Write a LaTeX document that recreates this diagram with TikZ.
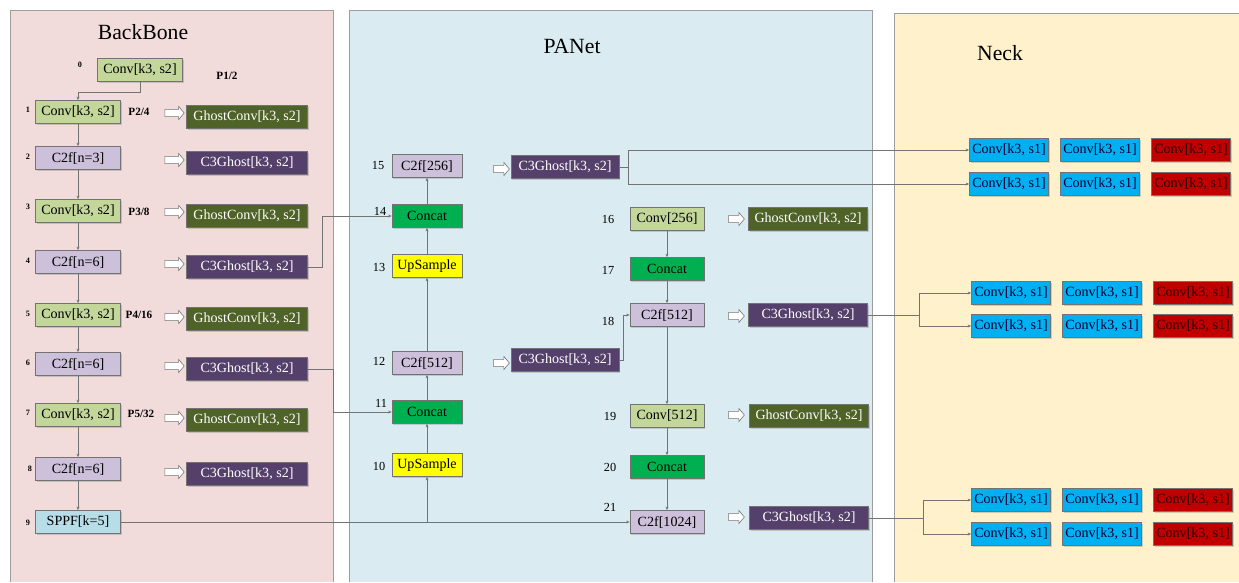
\documentclass[tikz,border=0pt]{standalone}
\usepackage{fontspec}
\setmainfont{Liberation Serif}
\usetikzlibrary{arrows.meta,shadows,shapes.arrows}

\definecolor{bbpanel}{RGB}{242,220,219}
\definecolor{papanel}{RGB}{218,236,241}
\definecolor{nkpanel}{RGB}{255,241,204}
\definecolor{convfill}{RGB}{196,215,155}
\definecolor{cffill}{RGB}{204,192,218}
\definecolor{ghostfill}{RGB}{79,98,40}
\definecolor{cghfill}{RGB}{85,64,108}
\definecolor{catfill}{RGB}{0,176,80}
\definecolor{upfill}{RGB}{255,255,0}
\definecolor{sppffill}{RGB}{183,222,232}
\definecolor{blufill}{RGB}{0,176,240}
\definecolor{redfill}{RGB}{192,0,0}
\definecolor{edge}{RGB}{115,115,115}

\tikzset{
  blk/.style={draw=edge, line width=0.6pt, minimum height=0.69cm, inner sep=0.5pt,
    font=\fontsize{12}{13}\selectfont,
    drop shadow={shadow xshift=1.2pt, shadow yshift=-1.2pt, opacity=.35}},
  conv/.style={blk, fill=convfill, minimum width=2.55cm},
  ctwof/.style={blk, fill=cffill, minimum width=2.55cm},
  ghost/.style={blk, fill=ghostfill, text=white, minimum width=3.63cm},
  cghost/.style={blk, fill=cghfill, text=white, minimum width=3.63cm},
  concat/.style={blk, fill=catfill, minimum width=2.1cm},
  upsmp/.style={blk, fill=upfill, minimum width=2.1cm},
  neckb/.style={blk, fill=blufill, text=black!80!blue, minimum width=2.37cm},
  neckr/.style={blk, fill=redfill, text=black!85!red, minimum width=2.37cm},
  hollow/.style={single arrow, draw=edge, fill=white, line width=0.5pt,
    minimum height=0.58cm, inner xsep=0pt, inner ysep=0.1cm,
    single arrow head extend=0.09cm, single arrow tip angle=100},
  hollows/.style={hollow, minimum height=0.47cm},
  wire/.style={draw=edge, line width=0.5pt},
  wirea/.style={wire, -{Stealth[length=3pt,width=2.5pt]}},
  idx/.style={font=\fontsize{7}{8}\selectfont\bfseries},
  pidx/.style={font=\fontsize{10.5}{12}\selectfont},
  ptag/.style={font=\fontsize{9.5}{10}\selectfont\bfseries},
  paneltitle/.style={font=\fontsize{18.5}{20}\selectfont},
}

\begin{document}
\begin{tikzpicture}[x={(0.03cm,0)}, y={(0,-0.03cm)}]
\useasboundingbox (0,0) rectangle (1239,582);

% panels
\fill[bbpanel] (10,10) rectangle (333,582);
\draw[edge!70] (10,582) |- (333,10) -- (333,582);
\fill[papanel] (349,10) rectangle (872,582);
\draw[edge!70] (349,582) |- (872,10) -- (872,582);
\fill[nkpanel] (894,13) rectangle (1239,582);
\draw[edge!70] (894,582) |- (1239,13);

\node[paneltitle] (tbb) at (143,32) {BackBone};
\node[paneltitle] (tpa) at (572,46) {PANet};
\node[paneltitle] (tnk) at (1000,53) {Neck};

% backbone
\node[conv] (b0) at (140,70) {Conv[k3, s2]};
\node[conv] (b1) at (78,112) {Conv[k3, s2]};
\node[ctwof] (b2) at (78,158) {C2f[n=3]};
\node[conv] (b3) at (78,211) {Conv[k3, s2]};
\node[ctwof] (b4) at (78,262) {C2f[n=6]};
\node[conv] (b5) at (78,315) {Conv[k3, s2]};
\node[ctwof] (b6) at (78,364) {C2f[n=6]};
\node[conv] (b7) at (78,415) {Conv[k3, s2]};
\node[ctwof] (b8) at (78,469) {C2f[n=6]};
\node[blk, fill=sppffill, minimum width=2.55cm] (b9) at (78,522) {SPPF[k=5]};

\node[idx] (i0) at (80,65) {0};
\node[idx] (i1) at (28,110) {1};
\node[idx] (i2) at (28,157) {2};
\node[idx] (i3) at (28,207) {3};
\node[idx] (i4) at (28,261) {4};
\node[idx] (i5) at (28,314) {5};
\node[idx] (i6) at (28,363) {6};
\node[idx] (i7) at (28,413) {7};
\node[idx] (i8) at (30,469) {8};
\node[idx] (i9) at (28,523) {9};

\node[ptag] (s1) at (227,76) {P1/2};
\node[ptag] (s2) at (139,112) {P2/4};
\node[ptag] (s3) at (139,212) {P3/8};
\node[ptag] (s4) at (139,315) {P4/16};
\node[ptag] (s5) at (141,414) {P5/32};

\node[ghost] (g1) at (247,117) {GhostConv[k3, s2]};
\node[cghost] (g2) at (247,163) {C3Ghost[k3, s2]};
\node[ghost] (g3) at (247,216) {GhostConv[k3, s2]};
\node[cghost] (g4) at (247,267) {C3Ghost[k3, s2]};
\node[ghost] (g5) at (247,319) {GhostConv[k3, s2]};
\node[cghost] (g6) at (247,369) {C3Ghost[k3, s2]};
\node[ghost] (g7) at (247,420) {GhostConv[k3, s2]};
\node[cghost] (g8) at (247,474) {C3Ghost[k3, s2]};

\foreach \i/\y in {1/113,2/160,3/212,4/264,5/317,6/366,7/418,8/472}
  \node[hollow] (h\i) at (173,\y) {};

\coordinate (j0) at (78,92);
\draw[wirea] (b0.south) |- (j0) -- (b1.north);
\foreach \i/\j in {1/2,2/3,3/4,4/5,5/6,6/7,7/8,8/9}
  \draw[wirea] (b\i.south) -- (b\j.north);

% PANet
\node[upsmp] (p10) at (427,465) {UpSample};
\node[concat] (p11) at (427,412) {Concat};
\node[ctwof, minimum width=2.1cm] (p12) at (427,363) {C2f[512]};
\node[upsmp] (p13) at (427,266) {UpSample};
\node[concat] (p14) at (427,216) {Concat};
\node[ctwof, minimum width=2.1cm] (p15) at (427,166) {C2f[256]};
\node[conv, minimum width=2.22cm] (p16) at (667,219) {Conv[256]};
\node[concat, minimum width=2.22cm] (p17) at (667,269) {Concat};
\node[ctwof, minimum width=2.22cm] (p18) at (667,315) {C2f[512]};
\node[conv, minimum width=2.22cm] (p19) at (667,416) {Conv[512]};
\node[concat, minimum width=2.22cm] (p20) at (667,467) {Concat};
\node[ctwof, minimum width=2.22cm] (p21) at (667,522) {C2f[1024]};

\node[pidx] (l10) at (379,466) {10};
\node[pidx] (l11) at (381,403) {11};
\node[pidx] (l12) at (379,361) {12};
\node[pidx] (l13) at (379,267) {13};
\node[pidx] (l14) at (380,211) {14};
\node[pidx] (l15) at (378,165) {15};
\node[pidx] (l16) at (608,219) {16};
\node[pidx] (l17) at (608,270) {17};
\node[pidx] (l18) at (608,321) {18};
\node[pidx] (l19) at (610,416) {19};
\node[pidx] (l20) at (610,467) {20};
\node[pidx] (l21) at (610,507) {21};

\node[cghost, minimum width=3.24cm] (q15) at (565,167) {C3Ghost[k3, s2]};
\node[cghost, minimum width=3.24cm] (q12) at (565,360) {C3Ghost[k3, s2]};
\node[ghost, minimum width=3.57cm] (q16) at (808,219) {GhostConv[k3, s2]};
\node[cghost, minimum width=3.57cm] (q18) at (808,315) {C3Ghost[k3, s2]};
\node[ghost, minimum width=3.57cm] (q19) at (809,416) {GhostConv[k3, s2]};
\node[cghost, minimum width=3.57cm] (q21) at (809,518) {C3Ghost[k3, s2]};

\node[hollows] (h15) at (500,169) {};
\node[hollows] (h12) at (500,363) {};
\node[hollows] (h16) at (735,219) {};
\node[hollows] (h18) at (735,316) {};
\node[hollows] (h19) at (735,415) {};
\node[hollows] (h21) at (735,517) {};

\foreach \i/\j in {10/11,11/12,12/13,13/14,14/15}
  \draw[wirea] (p\i.north) -- (p\j.south);
\foreach \i/\j in {16/17,17/18,18/19,19/20,20/21}
  \draw[wirea] (p\i.south) -- (p\j.north);

\coordinate (j9) at (p10.south |- b9.east);
\draw[wirea] (b9.east) -- (p21.west);
\draw[wirea] (j9) -- (p10.south);
\draw[wirea] (g4.east) -- ++(14,0) |- (p14.west);
\draw[wirea] (g6.east) -- ++(25,0) |- (p11.west);
\draw[wirea] (q12.east) -- ++(4,0) |- (p18.west);

% Neck
\foreach \r/\y/\dx in {1/150/0,2/184/0,3/293/2,4/326/2,5/500/2,6/534/2}{
  \node[neckb] (nkA\r) at (1009+\dx,\y) {Conv[k3, s1]};
  \node[neckb] (nkB\r) at (1100+\dx,\y) {Conv[k3, s1]};
  \node[neckr] (nkC\r) at (1191+\dx,\y) {Conv[k3, s1]};
}

\draw[wirea] (q15.east) -- ++(9,0) |- (nkA1.west);
\draw[wirea] (q15.east) -- ++(9,0) |- (nkA2.west);
\draw[wirea] (q18.east) -- ++(51,0) |- (nkA3.west);
\draw[wirea] (q18.east) -- ++(51,0) |- (nkA4.west);
\draw[wirea] (q21.east) -- ++(54,0) |- (nkA5.west);
\draw[wirea] (q21.east) -- ++(54,0) |- (nkA6.west);

\end{tikzpicture}
\end{document}
